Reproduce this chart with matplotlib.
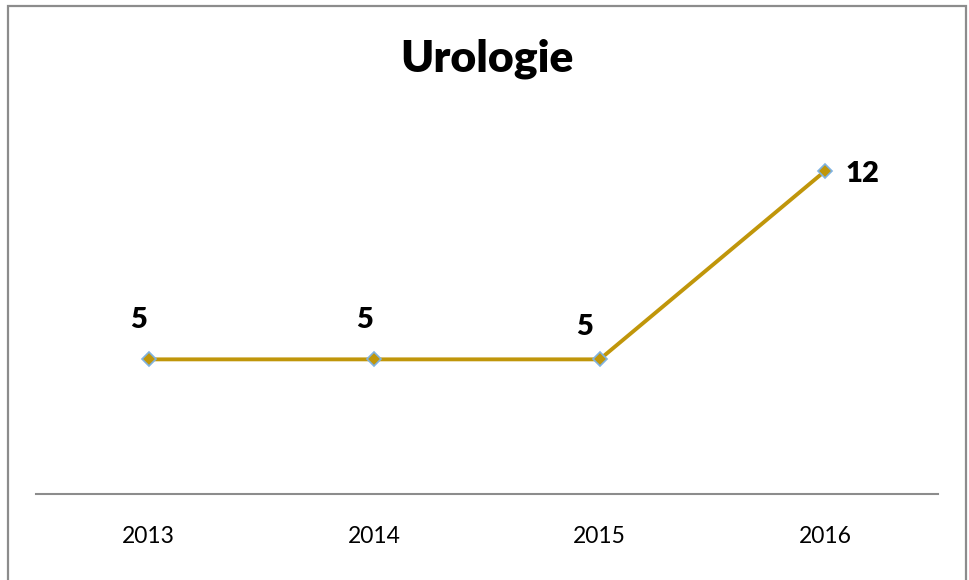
import matplotlib.pyplot as plt
from matplotlib.patches import Rectangle

years = ['2013', '2014', '2015', '2016']
values = [5, 5, 5, 12]
title = 'Urologie'

plt.rcParams['font.family'] = ['Lato', 'DejaVu Sans']

fig = plt.figure(figsize=(9.69, 5.8), dpi=100)
ax = fig.add_axes([36 / 969, 86 / 580, 902 / 969, 377 / 580])

x = range(len(years))
ax.plot(x, values, color='#C0960A', lw=2.8, marker='D', markersize=7,
        markerfacecolor='#C0960A', markeredgecolor='#7FB2E0', markeredgewidth=1.2)

# label offsets (points) similar to Excel auto placement
offsets = [(-7, 28), (-7, 28), (-11, 23), (27, -2)]
for xi, v, off in zip(x, values, offsets):
    ax.annotate(str(v), (xi, v), xytext=off, textcoords='offset points',
                ha='center', va='center', fontsize=21, fontweight='heavy')

ax.set_xlim(-0.5, 3.5)
ax.set_ylim(0, 14)
ax.set_xticks(list(x))
ax.set_xticklabels(years, fontsize=16.5)
ax.tick_params(axis='x', length=0, pad=23)
ax.set_yticks([])
for s in ['top', 'right', 'left']:
    ax.spines[s].set_visible(False)
ax.spines['bottom'].set_color('#8C8C8C')
ax.spines['bottom'].set_linewidth(1.5)

fig.text(487 / 969, 1 - 59 / 580, title, ha='center', va='center',
         fontsize=32, fontweight='heavy')

# outer chart border (bottom edge falls off the image)
fig.patches.append(Rectangle((8 / 969, -0.05), 958 / 969, 1 - 6 / 580 + 0.05,
                             transform=fig.transFigure, fill=False,
                             edgecolor='#8C8C8C', lw=1.6))

fig.savefig('out.png', dpi=100)
